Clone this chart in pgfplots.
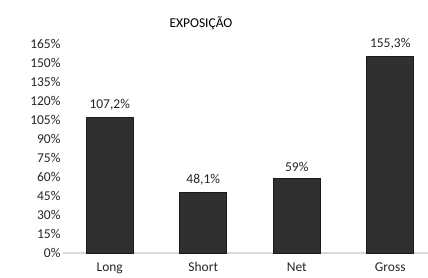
\documentclass[border=0pt]{standalone}
\usepackage{fontspec}
\setmainfont{Carlito}
\usepackage{pgfplots}
\pgfplotsset{compat=1.18}
\definecolor{barfill}{HTML}{303030}
\definecolor{baredge}{HTML}{1A1A1A}
\definecolor{axisgray}{HTML}{D9D9D9}
\begin{document}
\begin{tikzpicture}[x=1pt,y=1pt]
\path[use as bounding box] (0,0) rectangle (428,277);
\begin{axis}[
  at={(63pt,24pt)}, anchor=south west,
  scale only axis, width=365pt, height=209pt,
  xmin=-0.5, xmax=3.404, ymin=0, ymax=165,
  axis x line*=bottom,
  axis y line*=left,
  x axis line style={draw=axisgray, line width=1.2pt, -},
  y axis line style={draw=none},
  ytick={0,15,...,165},
  xtick={0,1,2,3},
  xticklabels={Long,Short,Net,Gross},
  major tick length=0pt,
  /pgf/number format/assume math mode=true,
  /pgf/number format/use comma,
  ticklabel style={font=\fontsize{13.5}{14}\selectfont, text=black!85},
  yticklabel={\pgfmathprintnumber{\tick}\%},
  yticklabel style={anchor=east, xshift=1pt},
  xticklabel style={yshift=-6pt},
  title={EXPOSIÇÃO},
  title style={font=\fontsize{13.5}{14}\selectfont, at={(axis description cs:0.378,1)}, yshift=5pt, anchor=south},
  nodes near coords={\pgfmathprintnumber{\pgfplotspointmeta}\%},
  nodes near coords style={font=\fontsize{13.5}{14}\selectfont, text=black!85, yshift=3pt},
  clip=false,
]
\addplot[ybar, bar width=47pt, fill=barfill, draw=baredge, line width=0.6pt] coordinates {(0,107.2) (1,48.1) (2,59) (3,155.3)};
\end{axis}
\end{tikzpicture}
\end{document}
